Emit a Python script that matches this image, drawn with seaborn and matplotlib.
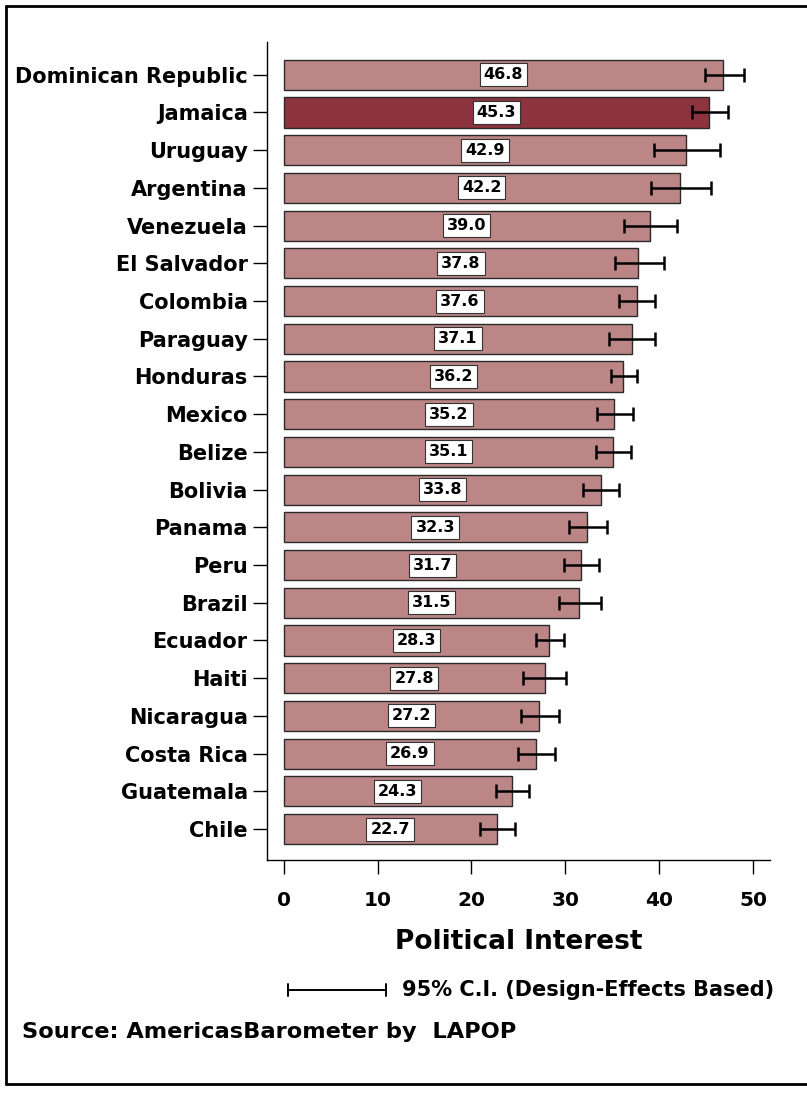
import numpy as np
import pandas as pd
import matplotlib
matplotlib.use("Agg")
import matplotlib.pyplot as plt
import seaborn as sns
from matplotlib.lines import Line2D

countries = ["Dominican Republic", "Jamaica", "Uruguay", "Argentina", "Venezuela",
             "El Salvador", "Colombia", "Paraguay", "Honduras", "Mexico", "Belize",
             "Bolivia", "Panama", "Peru", "Brazil", "Ecuador", "Haiti", "Nicaragua",
             "Costa Rica", "Guatemala", "Chile"]
means = [46.8, 45.3, 42.9, 42.2, 39.0, 37.8, 37.6, 37.1, 36.2, 35.2, 35.1,
         33.8, 32.3, 31.7, 31.5, 28.3, 27.8, 27.2, 26.9, 24.3, 22.7]
ci_low = [44.9, 43.5, 39.5, 39.1, 36.3, 35.3, 35.7, 34.7, 34.9, 33.4, 33.3,
          31.9, 30.4, 29.9, 29.3, 26.9, 25.5, 25.3, 25.0, 22.6, 20.9]
ci_high = [49.0, 47.3, 46.5, 45.5, 41.9, 40.5, 39.6, 39.6, 37.6, 37.2, 37.0,
           35.7, 34.4, 33.6, 33.8, 29.9, 30.1, 29.3, 28.9, 26.1, 24.7]
highlight = "Jamaica"

light = "#bc8686"
dark = "#8c333d"

df = pd.DataFrame({"country": countries, "mean": means,
                   "lo": ci_low, "hi": ci_high})

sns.set_style("white")
plt.rcParams["font.family"] = ["DejaVu Sans"]
plt.rcParams["font.weight"] = "bold"
for key in ["text.color", "axes.labelcolor", "xtick.color", "ytick.color"]:
    plt.rcParams[key] = "black"

fig = plt.figure(figsize=(8.07, 10.93), dpi=100)
ax = fig.add_axes([0.331, 0.2132, 0.623, 0.7484])

colors = [dark if c == highlight else light for c in countries]
sns.barplot(data=df, x="mean", y="country", hue="country", palette=colors,
            legend=False, orient="h", width=0.8, edgecolor="#2a2a2a",
            linewidth=1, saturation=1, ax=ax)

# confidence intervals
xerr = np.array([df["mean"] - df["lo"], df["hi"] - df["mean"]])
ax.errorbar(df["mean"], np.arange(len(df)), xerr=xerr, fmt="none",
            ecolor="black", elinewidth=1.8, capsize=5, capthick=1.8)

# value labels
for i, v in enumerate(means):
    ax.text(v / 2, i, f"{v:.1f}", ha="center", va="center", fontsize=11.5,
            fontweight="bold",
            bbox=dict(boxstyle="square,pad=0.25", fc="white", ec="#333333", lw=0.8))

ax.set_xlim(-1.76, 51.8)
ax.set_ylim(len(df) - 1 + 0.82, -0.87)
ax.set_xticks([0, 10, 20, 30, 40, 50])
ax.tick_params(axis="both", direction="out", length=10, width=1, color="black",
               labelsize=14.5, pad=4, left=True, bottom=True)
ax.tick_params(axis="y", labelsize=15)
ax.tick_params(axis="x", pad=12)
for lab in ax.get_xticklabels() + ax.get_yticklabels():
    lab.set_fontweight("bold")
ax.set_ylabel("")
ax.set_xlabel("Political Interest", fontsize=19, fontweight="bold", labelpad=14)
for s in ["top", "right"]:
    ax.spines[s].set_visible(False)
for s in ["left", "bottom"]:
    ax.spines[s].set_color("black")
    ax.spines[s].set_linewidth(1)

# CI legend
ly = 1 - 990 / 1093
fig.add_artist(Line2D([288 / 807, 386 / 807], [ly, ly], color="black", lw=1.4))
for px in (288, 386):
    fig.add_artist(Line2D([px / 807, px / 807], [ly - 6 / 1093, ly + 6 / 1093],
                          color="black", lw=1.4))
fig.text(402 / 807, ly, "95% C.I. (Design-Effects Based)", fontsize=15,
         fontweight="bold", va="center", ha="left")
fig.text(22 / 807, 1 - 1032 / 1093, "Source: AmericasBarometer by  LAPOP",
         fontsize=16.2, fontweight="bold", va="center", ha="left")

# outer frame
fx0, fy0, fy1 = 6 / 807, 1 - 1084 / 1093, 1 - 6 / 1093
fig.add_artist(Line2D([fx0, 1], [fy1, fy1], color="black", lw=2))
fig.add_artist(Line2D([fx0, 1], [fy0, fy0], color="black", lw=2))
fig.add_artist(Line2D([fx0, fx0], [fy0, fy1], color="black", lw=2))

fig.savefig("out.png", dpi=100)
